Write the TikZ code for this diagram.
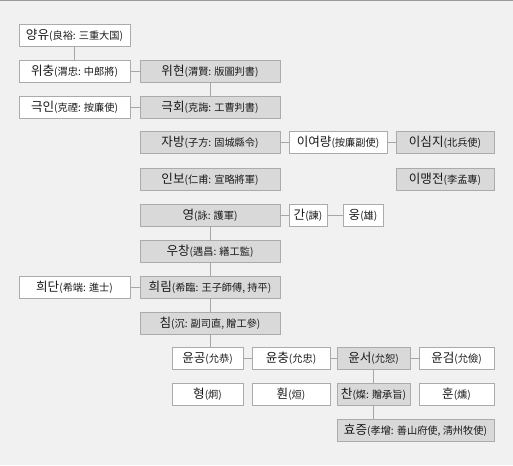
\documentclass[tikz,border=0pt]{standalone}
\usepackage{fontspec}
\newfontfamily\krfont{Noto Sans CJK KR}
\definecolor{bgc}{HTML}{F1F1F1}
\definecolor{bordc}{HTML}{ABABAB}
\definecolor{grayc}{HTML}{D9D9D9}
\definecolor{linec}{HTML}{A6A6A6}
\definecolor{txtc}{HTML}{1A1A1A}
\definecolor{topc}{HTML}{9A9A9A}
\newcommand{\kname}[2]{{\fontsize{12.6}{13}\selectfont #1}{\fontsize{10.2}{11}\selectfont(#2)}}
\tikzset{
  wbox/.style={draw=bordc, fill=white, minimum height=22pt, inner sep=0pt, text=txtc, font=\krfont, line width=0.8pt},
  gbox/.style={wbox, fill=grayc},
  conn/.style={draw=linec, line width=0.8pt}
}
\begin{document}
\begin{tikzpicture}[x=1pt,y=-1pt]
\useasboundingbox (0,0) rectangle (513,465);
\fill[bgc] (0,0) rectangle (513,465);
\draw[topc, line width=1pt] (0,0.5) -- (513,0.5);

% column A
\node[wbox, minimum width=111pt] (yangyu) at (74.5,35) {\kname{양유}{良裕: 三重大国}};
\node[wbox, minimum width=111pt] (wichung) at (74.5,71) {\kname{위충}{渭忠: 中郎將}};
\node[wbox, minimum width=111pt] (geugin) at (74.5,107) {\kname{극인}{克禋: 按廉使}};
\node[wbox, minimum width=111pt] (huidan) at (74.5,287) {\kname{희단}{希端: 進士}};

% column B
\node[gbox, minimum width=140pt] (wihyeon) at (210,71) {\kname{위현}{渭賢: 版圖判書}};
\node[gbox, minimum width=140pt] (geukhoe) at (210,107) {\kname{극회}{克誨: 工曹判書}};
\node[gbox, minimum width=140pt] (jabang) at (210,142.5) {\kname{자방}{子方: 固城縣令}};
\node[gbox, minimum width=140pt] (inbo) at (210,179) {\kname{인보}{仁甫: 宣略將軍}};
\node[gbox, minimum width=140pt] (yeong) at (210,215) {\kname{영}{詠: 護軍}};
\node[gbox, minimum width=140pt] (uchang) at (210,251) {\kname{우창}{遇昌: 繕工監}};
\node[gbox, minimum width=140pt] (huirim) at (210,287) {\kname{희림}{希臨: 王子師傅, 持平}};
\node[gbox, minimum width=140pt] (chim) at (210,323) {\kname{침}{沉: 副司直, 贈工參}};

% right side
\node[wbox, minimum width=98pt] (iyeoryang) at (338,142.5) {\kname{이여량}{按廉副使}};
\node[gbox, minimum width=98pt] (isimji) at (445,142.5) {\kname{이심지}{北兵使}};
\node[gbox, minimum width=98pt] (imaengjeon) at (445,179) {\kname{이맹전}{李孟專}};
\node[wbox, minimum width=38pt] (gan) at (308,215) {\kname{간}{諫}};
\node[wbox, minimum width=40pt] (ung) at (363,215) {\kname{웅}{雄}};

% bottom rows
\node[wbox, minimum width=71pt] (yungong) at (207.5,358) {\kname{윤공}{允恭}};
\node[wbox, minimum width=78pt] (yunchung) at (291,358) {\kname{윤충}{允忠}};
\node[gbox, minimum width=73pt] (yunseo) at (373.5,358) {\kname{윤서}{允恕}};
\node[wbox, minimum width=75pt] (yungeom) at (456.5,358) {\kname{윤검}{允儉}};
\node[wbox, minimum width=71pt] (hyeong) at (207.5,394) {\kname{형}{炯}};
\node[wbox, minimum width=78pt] (hwon) at (291,394) {\kname{훤}{烜}};
\node[gbox, minimum width=73pt] (chan) at (373.5,394) {\kname{찬}{燦: 贈承旨}};
\node[wbox, minimum width=75pt] (hun) at (456.5,394) {\kname{훈}{燻}};
\node[gbox, minimum width=157pt] (hyojeung) at (415.5,430) {\kname{효증}{孝增: 善山府使, 淸州牧使}};

% connectors
\draw[conn] (yangyu.south) -- (wichung.north);
\draw[conn] (wichung.east) -- (wihyeon.west);
\draw[conn] (wihyeon.south) -- (geukhoe.north);
\draw[conn] (geugin.east) -- (geukhoe.west);
\draw[conn] (jabang.east) -- (iyeoryang.west);
\draw[conn] (iyeoryang.east) -- (isimji.west);
\draw[conn] (yeong.east) -- (gan.west);
\draw[conn] (gan.east) -- (ung.west);
\draw[conn] (yeong.south) -- (uchang.north);
\draw[conn] (uchang.south) -- (huirim.north);
\draw[conn] (huidan.east) -- (huirim.west);
\draw[conn] (huirim.south) -- (chim.north);
\draw[conn] (chim.south) -- (chim.south |- yungong.north);
\draw[conn] (yungong.east) -- (yunchung.west);
\draw[conn] (yunchung.east) -- (yunseo.west);
\draw[conn] (yunseo.east) -- (yungeom.west);
\draw[conn] (yunseo.south) -- (chan.north);
\draw[conn] (chan.south) -- (chan.south |- hyojeung.north);
\end{tikzpicture}
\end{document}
